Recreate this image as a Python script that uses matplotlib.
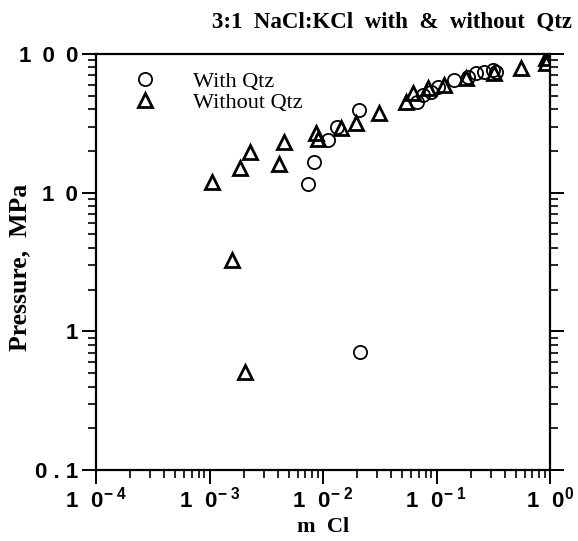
import matplotlib
matplotlib.use('Agg')
import matplotlib.pyplot as plt

plt.rcParams['mathtext.fontset'] = 'custom'
plt.rcParams['mathtext.rm'] = 'Liberation Sans:bold'
plt.rcParams['mathtext.it'] = 'Liberation Sans:bold'
plt.rcParams['mathtext.bf'] = 'Liberation Sans:bold'

# With Qtz (circles)
qtz_x = [0.00745, 0.0084, 0.011, 0.0134, 0.0206, 0.021, 0.068, 0.0757, 0.089,
         0.1026, 0.142, 0.189, 0.222, 0.261, 0.314, 0.334]
qtz_y = [11.6, 16.6, 24, 30, 39.5, 0.71, 45, 50.6, 53.2,
         57.8, 65, 68.3, 73, 74, 77, 74]

# Without Qtz (triangles)
noqtz_x = [0.00106, 0.00158, 0.00187, 0.00207, 0.00229, 0.00413, 0.00457, 0.0086,
           0.0091, 0.0143, 0.0194, 0.031, 0.0535, 0.0617, 0.0837, 0.116, 0.181,
           0.32, 0.554, 0.92, 0.92]
noqtz_y = [11.9, 3.27, 15.1, 0.51, 19.6, 16.1, 23.2, 26.9,
           24.4, 29.3, 31.8, 37.6, 45, 52, 56.9, 59.8, 67.1,
           73, 79.3, 86, 93.6]

xticks = [1e-4, 1e-3, 1e-2, 1e-1, 1e0]
xticklabels = [r'$1\ \ 0^{-\ 4}$', r'$1\ \ 0^{-\ 3}$', r'$1\ \ 0^{-\ 2}$',
               r'$1\ \ 0^{-\ 1}$', r'$1\ \ 0^{0}$']
yticks = [0.1, 1, 10, 100]
yticklabels = ['0 . 1', '1', '1\u20020', '1\u20020\u20020']

fig = plt.figure(figsize=(5.78, 5.41), dpi=100)
ax = fig.add_axes([96 / 578, 1 - 470 / 541, 454 / 578, 416 / 541])

ax.plot(qtz_x, qtz_y, 'o', ms=9.5, mfc='none', mec='black', mew=1.3, label='With Qtz')
ax.plot(noqtz_x, noqtz_y, '^', ms=10, mfc='none', mec='black', mew=2.0, label='Without Qtz')

ax.set_xscale('log')
ax.set_yscale('log')
ax.set_xlim(1e-4, 1)
ax.set_ylim(0.1, 100)

ax.set_xticks(xticks)
ax.set_xticklabels(xticklabels, fontsize=16)
ax.set_yticks(yticks)
ax.set_yticklabels(yticklabels, fontsize=16, family='Liberation Sans', fontweight='bold')

ax.tick_params(which='major', direction='out', length=10, width=1.4, right=True, top=False)
ax.tick_params(which='minor', direction='out', length=6, width=1.2, right=True, top=False)
ax.tick_params(axis='x', pad=1)
ax.tick_params(axis='y', pad=3)
for s in ax.spines.values():
    s.set_linewidth(1.6)

ax.set_xlabel('m  Cl', family='Liberation Serif', fontweight='bold', fontsize=16, labelpad=4)
ax.set_ylabel('Pressure,  MPa', family='Liberation Serif', fontweight='bold', fontsize=18.5)
ax.yaxis.set_label_coords(-0.143, 0.486)

fig.text(392 / 578, 1 - 22 / 541, '3:1  NaCl:KCl  with  &  without  Qtz',
         family='Liberation Serif', fontweight='bold', fontsize=16.5, ha='center', va='center')

ax.legend(loc='upper left', frameon=False, handlelength=1.0, handletextpad=1.66,
          labelspacing=0.0, borderpad=0, borderaxespad=0,
          bbox_to_anchor=(0.0837, 0.958),
          prop={'family': 'Liberation Serif', 'size': 16})

fig.savefig('out.png', dpi=100)
